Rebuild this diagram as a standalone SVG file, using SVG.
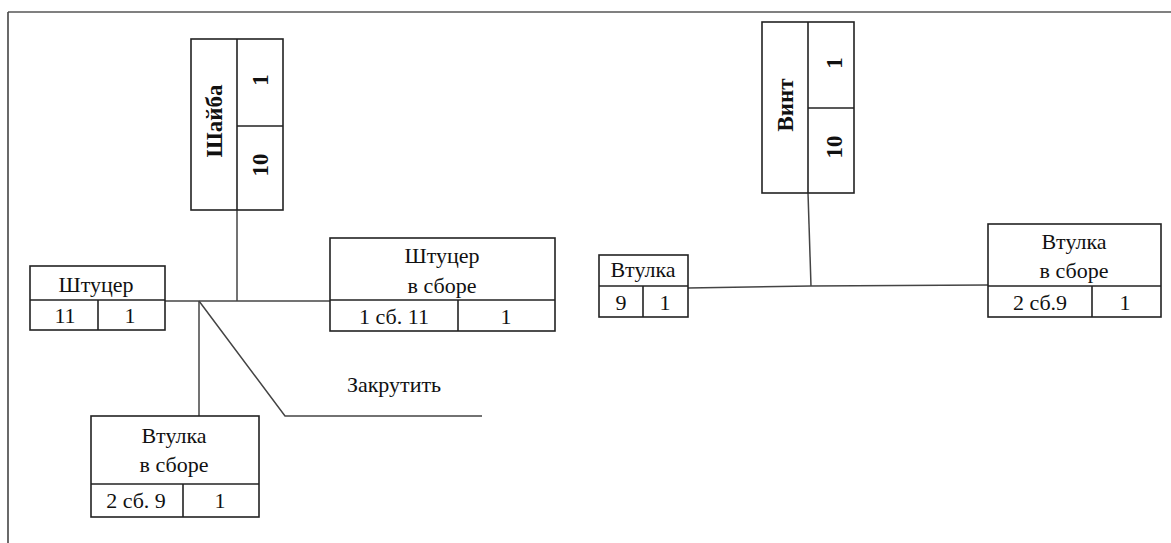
<svg xmlns="http://www.w3.org/2000/svg" width="1171" height="543" viewBox="0 0 1171 543" font-family="Liberation Serif, Times New Roman, serif">
<style>
.box{fill:#fff;stroke:#222;stroke-width:1.6}
.div{stroke:#222;stroke-width:1.6;fill:none}
.con{stroke:#444;stroke-width:1.5;fill:none}
.t{font-size:22px;fill:#111;text-anchor:middle}
.r{font-weight:bold;font-size:23px}
</style>
<rect width="1171" height="543" fill="#fff"/>
<g id="frame">
<line x1="8" y1="12" x2="1171" y2="12" stroke="#808080" stroke-width="2"/>
<line x1="8" y1="12" x2="8" y2="543" stroke="#444" stroke-width="1.6"/>
</g>
<g id="connectors">
<line class="con" x1="165" y1="301" x2="330" y2="301"/>
<line class="con" x1="237" y1="210" x2="237" y2="301"/>
<line class="con" x1="199" y1="301" x2="199" y2="416"/>
<polyline class="con" points="199,301 285,416 482,416"/>
<line class="con" x1="688" y1="288" x2="811" y2="286"/>
<line class="con" x1="811" y1="286" x2="988" y2="285"/>
<line class="con" x1="808" y1="193" x2="811" y2="286"/>
<line x1="988" y1="285" x2="1034" y2="285" stroke="#111" stroke-width="2.5"/>
</g>
<g id="label-zakrutit">
<text class="t" x="394" y="392">Закрутить</text>
</g>
<g id="shaiba">
<rect class="box" x="191" y="39" width="92" height="171"/>
<line class="div" x1="237" y1="39" x2="237" y2="210"/>
<line class="div" x1="237" y1="126" x2="283" y2="126"/>
<text class="t r" transform="translate(222,121) rotate(-90)">Шайба</text>
<text class="t r" transform="translate(268,80) rotate(-90)">1</text>
<text class="t r" transform="translate(268,165) rotate(-90)">10</text>
</g>
<g id="shtucer">
<rect class="box" x="30" y="266" width="135" height="64"/>
<line class="div" x1="30" y1="300" x2="165" y2="300"/>
<line class="div" x1="98" y1="300" x2="98" y2="330"/>
<text class="t" x="96" y="292">Штуцер</text>
<text class="t" x="65" y="323">11</text>
<text class="t" x="130" y="323">1</text>
</g>
<g id="shtucer-v-sbore">
<rect class="box" x="330" y="238" width="225" height="93"/>
<line class="div" x1="330" y1="300" x2="555" y2="300"/>
<line class="div" x1="458" y1="300" x2="458" y2="331"/>
<text class="t" x="442" y="263">Штуцер</text>
<text class="t" x="442" y="293">в сборе</text>
<text class="t" x="394" y="324">1 сб. 11</text>
<text class="t" x="506" y="324">1</text>
</g>
<g id="vtulka-v-sbore-left">
<rect class="box" x="91" y="416" width="168" height="101"/>
<line class="div" x1="91" y1="484" x2="259" y2="484"/>
<line class="div" x1="183" y1="484" x2="183" y2="517"/>
<text class="t" x="174" y="443">Втулка</text>
<text class="t" x="174" y="472">в сборе</text>
<text class="t" x="136" y="508">2 сб. 9</text>
<text class="t" x="220" y="508">1</text>
</g>
<g id="vint">
<rect class="box" x="762" y="22" width="92" height="171"/>
<line class="div" x1="808" y1="22" x2="808" y2="193"/>
<line class="div" x1="808" y1="108" x2="854" y2="108"/>
<text class="t r" transform="translate(793,105) rotate(-90)">Винт</text>
<text class="t r" transform="translate(842,63) rotate(-90)">1</text>
<text class="t r" transform="translate(842,147) rotate(-90)">10</text>
</g>
<g id="vtulka">
<rect class="box" x="599" y="255" width="89" height="62"/>
<line class="div" x1="599" y1="286" x2="688" y2="286"/>
<line class="div" x1="643" y1="286" x2="643" y2="317"/>
<text class="t" x="643" y="277">Втулка</text>
<text class="t" x="621" y="310">9</text>
<text class="t" x="665" y="310">1</text>
</g>
<g id="vtulka-v-sbore-right">
<rect class="box" x="988" y="224" width="173" height="93"/>
<line class="div" x1="988" y1="286" x2="1161" y2="286"/>
<line class="div" x1="1092" y1="286" x2="1092" y2="317"/>
<text class="t" x="1074" y="249">Втулка</text>
<text class="t" x="1074" y="278">в сборе</text>
<text class="t" x="1040" y="310">2 сб.9</text>
<text class="t" x="1125" y="310">1</text>
</g>
</svg>
